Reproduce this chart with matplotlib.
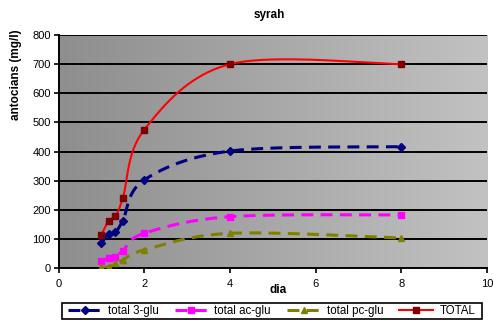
import numpy as np
import matplotlib
matplotlib.use("Agg")
import matplotlib.pyplot as plt
from matplotlib.lines import Line2D
from matplotlib.patches import Rectangle

plt.rcParams['font.family'] = ['Liberation Sans', 'DejaVu Sans']

# sampling days
dia = [1, 1.17, 1.33, 1.5, 2, 4, 8]

# anthocyanin content (mg/l)
total_3glu = [86, 118, 125, 163, 303, 402, 417]
total_acglu = [25, 35, 40, 60, 120, 177, 183]
total_pcglu = [3, 5, 17, 28, 63, 120, 104]
total = [114, 163, 180, 240, 475, 700, 700]

series_names = ["total 3-glu", "total ac-glu", "total pc-glu", "TOTAL"]

W, H = 493, 320


def smooth_curve(xs, ys, n=40):
    """Piecewise cubic Bezier through the points (spreadsheet-style smoothed line)."""
    p = np.column_stack([xs, ys]).astype(float)
    m = len(p)
    out = []
    for i in range(m - 1):
        p0 = p[max(i - 1, 0)]
        p1 = p[i]
        p2 = p[i + 1]
        p3 = p[min(i + 2, m - 1)]
        c1 = p1 + (p2 - p0) / 6.0
        c2 = p2 - (p3 - p1) / 6.0
        t = np.linspace(0, 1, n)[:, None]
        seg = ((1 - t) ** 3) * p1 + 3 * ((1 - t) ** 2) * t * c1 + 3 * (1 - t) * t ** 2 * c2 + t ** 3 * p2
        out.append(seg if i == 0 else seg[1:])
    seg = np.vstack(out)
    return seg[:, 0], seg[:, 1]


fig = plt.figure(figsize=(W / 100, H / 100), dpi=100)
ax = fig.add_axes([58.5 / W, 1 - 268.3 / H, (487 - 58.5) / W, (268.3 - 35) / H])

# gradient plot background
grad = np.linspace(0, 1, 256)[None, :]
cmap = matplotlib.colors.LinearSegmentedColormap.from_list("bg", ["#8e8e8e", "#c2c2c2"])
ax.imshow(grad, extent=[0, 10, 0, 800], aspect='auto', cmap=cmap, zorder=0)

ax.set_xlim(0, 10)
ax.set_ylim(0, 800)
ax.set_yticks(np.arange(0, 801, 100))
ax.set_xticks(np.arange(0, 11, 2))
for yv in range(100, 801, 100):
    ax.axhline(yv, color='black', lw=1.4, zorder=1)

dash = (0, (3.9, 2.4))
styles = [
    dict(values=total_3glu, color='#000080', mcolor='#000080', marker='D', ms=4.2, ls=dash, lw=2.2),
    dict(values=total_acglu, color='#ff00ff', mcolor='#ff00ff', marker='s', ms=4.5, ls=dash, lw=2.2),
    dict(values=total_pcglu, color='#808000', mcolor='#808000', marker='^', ms=5, ls=dash, lw=2.2),
    dict(values=total, color='#ff0000', mcolor='#800000', marker='s', ms=5, ls='-', lw=1.5),
]

handles = []
for name, st in zip(series_names, styles):
    sx, sy = smooth_curve(dia, st['values'])
    ax.plot(sx, sy, color=st['color'], lw=st['lw'], linestyle=st['ls'], zorder=3)
    ax.plot(dia, st['values'], linestyle='none', marker=st['marker'], ms=st['ms'],
            color=st['mcolor'], mec=st['mcolor'], zorder=4)
    handles.append(Line2D([], [], color=st['color'], lw=st['lw'], linestyle=st['ls'],
                          marker=st['marker'], ms=st['ms'], mfc=st['mcolor'], mec=st['mcolor'],
                          label=name))

for s in ['top', 'right']:
    ax.spines[s].set_visible(False)
ax.spines['left'].set_linewidth(1.4)
ax.spines['bottom'].set_linewidth(1.4)
ax.tick_params(axis='both', labelsize=8, length=3.6, width=1.2, direction='out', pad=2)
ax.tick_params(axis='x', pad=4)

fig.text(269 / W, 1 - 15 / H, "syrah", fontsize=8.5, fontweight='bold', ha='center', va='center')
fig.text(278 / W, 1 - 290 / H, "dia", fontsize=8.5, fontweight='bold', ha='center', va='center')
fig.text(16 / W, 1 - 75 / H, "antocians (mg/l)", fontsize=8.5, fontweight='bold',
         ha='center', va='center', rotation=90)

# legend box below the plot
fig.patches.append(Rectangle((62 / W, 1 - 319 / H), 420 / W, 16.5 / H, transform=fig.transFigure,
                             facecolor='white', edgecolor='black', lw=1.2, zorder=1))
leg = fig.legend(handles=handles, loc='center left', ncol=4,
                 bbox_to_anchor=(68 / W, 1 - 311 / H),
                 fontsize=8.3, frameon=False, handlelength=2.9, handletextpad=0.55,
                 borderpad=0.0, borderaxespad=0.0, columnspacing=1.4)

fig.savefig("out.png", dpi=100)
